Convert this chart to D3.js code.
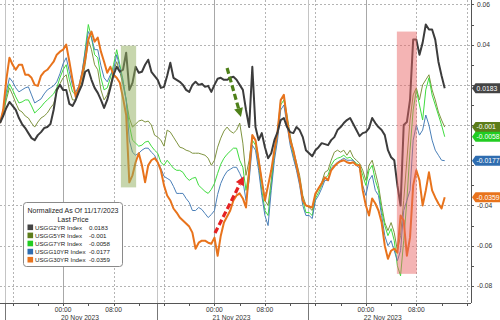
<!DOCTYPE html>
<html>
<head>
<meta charset="utf-8">
<script src="https://cdn.jsdelivr.net/npm/d3@7"></script>
<style>
  body { margin: 0; background: #fff; }
  svg { display: block; font-family: "Liberation Sans", Arial, sans-serif; }
</style>
</head>
<body>
<svg id="chart" width="500" height="320"></svg>
<script>
// half-hourly samples from Sun 19 Nov 2023 14:00, normalized to 17 Nov close
const start = new Date(2023, 10, 19, 14, 0);

const usgg2yr = [0.001,0.0045,0.0085,0.0115,0.0095,0.0075,0.0035,0.0005,-0.0015,-0.004,
  -0.0065,-0.0075,-0.005,-0.0035,-0.0015,-0.001,0.0005,0.0075,0.0175,0.02,
  0.0175,0.0175,0.0105,0.0095,0.0125,0.0165,0.02,0.0265,0.0275,0.0225,
  0.0185,0.016,0.0125,0.0085,0.0125,0.0185,0.025,0.029,0.0265,0.0275,
  0.036,0.0175,0.021,0.029,0.026,0.0265,0.03,0.0325,0.0265,0.0245,
  0.0225,0.0185,0.019,0.0245,0.031,0.0235,0.0225,0.0215,0.02,0.0175,
  0.0165,0.02,0.0215,0.02,0.0205,0.019,0.0195,0.0165,0.02,0.023,
  0.0235,0.0225,0.0225,0.0235,0.024,0.0225,0.02,0.0175,0.0075,-0.001,
  0.029,-0.001,-0.0075,-0.004,-0.011,-0.0165,-0.014,-0.0075,-0.0035,0.0025,
  0.0035,-0.001,-0.0035,-0.004,-0.001,-0.0025,-0.006,-0.0125,-0.014,-0.0155,
  -0.0125,-0.011,-0.009,-0.0095,-0.01,-0.0075,-0.006,-0.0025,-0.001,0.001,
  0.0025,0.0035,0.0005,-0.0025,-0.0055,-0.004,-0.0035,-0.0015,0.0035,0.001,
  -0.001,-0.0025,-0.005,-0.0125,-0.016,-0.0175,-0.03,-0.04,0,0.0015,
  0.0125,0.0425,0.0425,0.035,0.041,0.05,0.0475,0.0475,0.0425,0.0315,
  0.0245,0.0183];

const usgg5yr = [0.001,0.0055,0.0125,0.0185,0.015,0.011,0.0075,0.0065,0.0045,0.0035,
  0.001,-0.001,0.0015,0.0035,0.0045,0.006,0.0085,0.0105,0.0165,0.0205,
  0.0235,0.025,0.0175,0.0125,0.0125,0.0165,0.0215,0.03,0.0425,0.0375,
  0.03,0.0275,0.0175,0.0125,0.015,0.02,0.0265,0.0315,0.0265,0.02,
  0.0125,0.0035,-0.001,0.0005,0.002,0.0025,0.0015,0.002,0,-0.005,
  -0.006,-0.0075,-0.0105,-0.0025,-0.0035,-0.006,-0.0085,-0.011,-0.0115,-0.0125,
  -0.013,-0.014,-0.014,-0.014,-0.0145,-0.015,-0.0165,-0.02,-0.0175,-0.011,
  -0.0065,-0.003,-0.001,-0.003,-0.004,-0.0025,0.001,-0.009,-0.025,-0.0175,
  -0.005,-0.0075,-0.0165,-0.0275,-0.0375,-0.04,-0.0275,-0.0125,-0.0025,0.0125,
  0.014,0.005,-0.005,-0.0125,-0.0185,-0.025,-0.035,-0.04,-0.041,-0.0425,
  -0.035,-0.0315,-0.0285,-0.0235,-0.0225,-0.0175,-0.0135,-0.0125,-0.0135,-0.0125,
  -0.015,-0.0125,-0.016,-0.0175,-0.019,-0.0225,-0.0275,-0.02,-0.0175,-0.0235,
  -0.03,-0.04,-0.0485,-0.0525,-0.0485,-0.0535,-0.0625,-0.055,-0.0375,-0.0175,
  0.0025,0.015,0.0185,0.0125,0.02,0.0225,0.025,0.0175,0.0125,0.0065,
  0.0025,-0.001];

const usgg7yr = [0.001,0.0065,0.0145,0.0205,0.0175,0.014,0.011,0.0115,0.0125,0.0125,
  0.0095,0.006,0.0075,0.009,0.011,0.0125,0.014,0.0155,0.0185,0.0235,
  0.0275,0.03,0.0225,0.0165,0.015,0.0185,0.025,0.0375,0.05,0.0435,
  0.035,0.0335,0.0235,0.0175,0.0185,0.0235,0.03,0.0375,0.03,0.0225,
  0.0125,0,-0.0075,-0.009,-0.0105,-0.01,-0.0085,-0.008,-0.0105,-0.0125,
  -0.014,-0.0185,-0.02,-0.0175,-0.0195,-0.0215,-0.0225,-0.0225,-0.0235,-0.026,
  -0.0275,-0.0265,-0.026,-0.03,-0.0315,-0.033,-0.034,-0.032,-0.029,-0.024,
  -0.0195,-0.0165,-0.0145,-0.013,-0.0115,-0.0115,-0.0175,-0.021,-0.0325,-0.0225,
  -0.0075,-0.01,-0.02,-0.0325,-0.0425,-0.045,-0.03,-0.015,-0.005,0.01,
  0.0125,0.0035,-0.0075,-0.015,-0.0215,-0.0275,-0.0375,-0.0435,-0.0435,-0.045,
  -0.0365,-0.0335,-0.03,-0.0265,-0.025,-0.02,-0.0175,-0.0165,-0.016,-0.015,
  -0.0165,-0.016,-0.0175,-0.019,-0.02,-0.025,-0.03,-0.0225,-0.02,-0.0275,
  -0.0325,-0.0425,-0.05,-0.055,-0.0515,-0.0575,-0.07,-0.075,-0.0575,-0.0375,
  -0.0125,0.0075,0.0175,0.01,0.0025,0.0175,0.0235,0.015,0.01,0.005,
  0,-0.0058];

const usgg10yr = [0.001,0.0075,0.0165,0.0235,0.0215,0.0185,0.0165,0.0175,0.0185,0.019,
  0.015,0.011,0.012,0.013,0.0155,0.0175,0.0185,0.0195,0.0215,0.0255,
  0.0305,0.0335,0.0265,0.0195,0.0165,0.0195,0.0265,0.0365,0.0465,0.0435,
  0.0375,0.0375,0.0295,0.0235,0.0215,0.025,0.0275,0.035,0.0285,0.0215,
  0.0125,-0.0075,-0.0135,-0.015,-0.014,-0.0125,-0.0115,-0.0115,-0.0135,-0.015,
  -0.0185,-0.0215,-0.0255,-0.0265,-0.0275,-0.0305,-0.034,-0.034,-0.034,-0.0365,
  -0.0385,-0.0425,-0.0425,-0.041,-0.042,-0.044,-0.046,-0.0445,-0.0425,-0.0345,
  -0.029,-0.0255,-0.023,-0.022,-0.021,-0.021,-0.024,-0.0275,-0.0375,-0.0275,
  -0.01,-0.0125,-0.0225,-0.035,-0.045,-0.05,-0.0325,-0.0175,-0.0075,0.0075,
  0.01,0,-0.01,-0.0165,-0.0225,-0.03,-0.04,-0.045,-0.045,-0.0465,
  -0.0375,-0.035,-0.0315,-0.0275,-0.0275,-0.0215,-0.02,-0.0185,-0.0175,-0.0165,
  -0.0175,-0.0175,-0.0175,-0.02,-0.0215,-0.03,-0.035,-0.0275,-0.025,-0.0325,
  -0.035,-0.045,-0.055,-0.06,-0.0575,-0.0625,-0.0675,-0.0625,-0.0425,-0.0375,
  -0.0325,-0.0075,0,-0.005,-0.0025,0.005,0,-0.0075,-0.0125,-0.015,
  -0.0175,-0.0177];

const usgg30yr = [0.001,0.0075,0.0225,0.0335,0.03,0.0275,0.03,0.03,0.025,0.025,
  0.0235,0.02,0.0195,0.0245,0.0265,0.0275,0.0295,0.0315,0.035,0.0365,
  0.0375,0.04,0.0315,0.0225,0.014,0.0185,0.025,0.0325,0.0425,0.0465,
  0.0415,0.0435,0.0365,0.0315,0.026,0.029,0.025,0.0235,0.021,0.0135,
  0.005,-0.0285,-0.025,-0.0185,-0.014,-0.02,-0.0285,-0.02,-0.0175,-0.0165,
  -0.0185,-0.0225,-0.03,-0.035,-0.0375,-0.0415,-0.0435,-0.046,-0.0475,-0.049,
  -0.0505,-0.0535,-0.0615,-0.0585,-0.0575,-0.0575,-0.0585,-0.059,-0.056,-0.065,
  -0.055,-0.0485,-0.0455,-0.0425,-0.0375,-0.035,-0.034,-0.0365,-0.041,-0.0225,
  -0.005,-0.0075,-0.0175,-0.0275,-0.0375,-0.03,-0.0225,-0.0125,-0.0035,0.0125,
  0.015,0.0025,-0.0075,-0.0125,-0.02,-0.0275,-0.0375,-0.04,-0.0405,-0.041,
  -0.034,-0.0315,-0.029,-0.026,-0.0275,-0.0225,-0.0205,-0.019,-0.018,-0.0175,
  -0.0185,-0.019,-0.0185,-0.02,-0.02,-0.0325,-0.04,-0.045,-0.0365,-0.039,
  -0.0425,-0.0485,-0.06,-0.0665,-0.0625,-0.0615,-0.0635,-0.045,-0.0475,-0.065,
  -0.056,-0.03,-0.0225,-0.0275,-0.04,-0.0325,-0.0235,-0.0325,-0.036,-0.039,
  -0.0415,-0.0359];

const seriesNames = ["USGG2YR Index", "USGG5YR Index", "USGG7YR Index", "USGG10YR Index", "USGG30YR Index"];
const seriesValues = [usgg2yr, usgg5yr, usgg7yr, usgg10yr, usgg30yr];
const lineColors = ["#3c3c3c", "#7f9440", "#3fdc3f", "#4a7fb8", "#e8731c"];
const tagColors = ["#444444", "#5d7d1a", "#22cc22", "#2f6db0", "#e8731c"];
const lineWidths = [2, 1, 1, 1, 2];
const yTicks = [-0.08, -0.06, -0.04, -0.02, 0, 0.02, 0.04, 0.06];

// annotation boxes and arrows (time, value)
const greenBox = { t0: new Date(2023, 10, 20, 9, 10), t1: new Date(2023, 10, 20, 11, 35), v0: 0.0395, v1: -0.031 };
const pinkBox = { t0: new Date(2023, 10, 22, 4, 55), t1: new Date(2023, 10, 22, 8, 5), v0: 0.0465, v1: -0.074 };
const greenArrow = { t0: new Date(2023, 10, 21, 2, 0), v0: 0.0284, t1: new Date(2023, 10, 21, 4, 12), v1: 0.004 };
const redArrow = { t0: new Date(2023, 10, 21, 0, 5), v0: -0.0537, t1: new Date(2023, 10, 21, 4, 40), v1: -0.0254 };

const W = 471, H = 303;
const times = usgg2yr.map((d, i) => d3.timeMinute.offset(start, 30 * i));

const x = d3.scaleTime()
  .domain([new Date(2023, 10, 19, 14, 0), new Date(2023, 10, 22, 16, 40)])
  .range([0, W]);
const y = d3.scaleLinear().domain([-0.0885, 0.0622]).range([H, 0]);

const svg = d3.select("#chart");

svg.append("defs").append("clipPath").attr("id", "plot")
  .append("rect").attr("width", W).attr("height", H);

// horizontal grid
svg.append("g").selectAll("line").data(yTicks).enter().append("line")
  .attr("x1", 0).attr("x2", W)
  .attr("y1", d => Math.round(y(d)) + 0.5).attr("y2", d => Math.round(y(d)) + 0.5)
  .attr("stroke", "#b4b4b4").attr("stroke-dasharray", "2,2");

// vertical grid: midnight solid, 08:00 / 16:00 dotted
const grid8 = d3.timeHour.every(8).range(x.domain()[0], x.domain()[1]);
svg.append("g").selectAll("line").data(grid8).enter().append("line")
  .attr("x1", d => Math.round(x(d)) + 0.5).attr("x2", d => Math.round(x(d)) + 0.5)
  .attr("y1", 0).attr("y2", H)
  .attr("stroke", d => d.getHours() === 0 ? "#a8a8a8" : "#b4b4b4")
  .attr("stroke-dasharray", d => d.getHours() === 0 ? null : "2,2");

// session separators
const separators = [new Date(2023, 10, 19, 14, 50), new Date(2023, 10, 20, 14, 50), new Date(2023, 10, 21, 14, 50)];
svg.append("g").selectAll("line").data(separators).enter().append("line")
  .attr("x1", d => Math.round(x(d)) + 0.5).attr("x2", d => Math.round(x(d)) + 0.5)
  .attr("y1", 0).attr("y2", 320)
  .attr("stroke", "#c4c4c4");
svg.append("g").selectAll("line").data(separators).enter().append("line")
  .attr("x1", d => Math.round(x(d)) + 0.5).attr("x2", d => Math.round(x(d)) + 0.5)
  .attr("y1", H).attr("y2", 320)
  .attr("stroke", "#777");

// lines
const line = d3.line().x((d, i) => x(times[i])).y(d => y(d));
const order = [1, 2, 3, 4, 0];
svg.append("g").attr("clip-path", "url(#plot)")
  .selectAll("path").data(order).enter().append("path")
  .attr("fill", "none")
  .attr("stroke", k => lineColors[k])
  .attr("stroke-width", k => lineWidths[k])
  .attr("stroke-linejoin", "round")
  .attr("d", k => line(seriesValues[k]));

// shaded boxes on top of the lines
svg.append("rect")
  .attr("x", x(greenBox.t0)).attr("width", x(greenBox.t1) - x(greenBox.t0))
  .attr("y", y(greenBox.v0)).attr("height", y(greenBox.v1) - y(greenBox.v0))
  .attr("fill", "#8fae5c").attr("opacity", 0.5);
svg.append("rect")
  .attr("x", x(pinkBox.t0)).attr("width", x(pinkBox.t1) - x(pinkBox.t0))
  .attr("y", y(pinkBox.v0)).attr("height", y(pinkBox.v1) - y(pinkBox.v0))
  .attr("fill", "#e86262").attr("opacity", 0.48);

// dashed arrows
function arrow(a, color) {
  const x0 = x(a.t0), y0 = y(a.v0), x1 = x(a.t1), y1 = y(a.v1);
  const ang = Math.atan2(y1 - y0, x1 - x0);
  const head = 9, half = 4.5;
  const bx = x1 - head * Math.cos(ang), by = y1 - head * Math.sin(ang);
  svg.append("line")
    .attr("x1", x0).attr("y1", y0).attr("x2", bx).attr("y2", by)
    .attr("stroke", color).attr("stroke-width", 3.2).attr("stroke-dasharray", "6,3");
  const px = -Math.sin(ang) * half, py = Math.cos(ang) * half;
  svg.append("polygon")
    .attr("points", [[x1, y1], [bx + px, by + py], [bx - px, by - py]].map(p => p.join(",")).join(" "))
    .attr("fill", color);
}
arrow(greenArrow, "#4e8019");
arrow(redArrow, "#e52222");

// bottom axis
svg.append("line").attr("x1", 0).attr("x2", W).attr("y1", H + 0.5).attr("y2", H + 0.5).attr("stroke", "#555");
const ticks4 = d3.timeHour.every(4).range(x.domain()[0], x.domain()[1]);
svg.append("g").selectAll("line").data(ticks4).enter().append("line")
  .attr("x1", d => Math.round(x(d)) + 0.5).attr("x2", d => Math.round(x(d)) + 0.5)
  .attr("y1", H).attr("y2", H + 3).attr("stroke", "#555");
const labelTicks = ticks4.filter(d => d.getHours() === 0 || d.getHours() === 8);
svg.append("g").selectAll("text").data(labelTicks).enter().append("text")
  .attr("x", d => x(d)).attr("y", 312)
  .attr("text-anchor", "middle").attr("font-size", 6.7).attr("fill", "#333")
  .text(d3.timeFormat("%H:%M"));
svg.append("g").selectAll("text").data(ticks4.filter(d => d.getHours() === 0)).enter().append("text")
  .attr("x", d => x(d) - 2).attr("y", 320)
  .attr("font-size", 6.7).attr("fill", "#333")
  .text(d3.timeFormat("%-d %b %Y"));

// right axis
const lastVals = seriesValues.map(s => s[s.length - 1]);
svg.append("line").attr("x1", W + 0.5).attr("x2", W + 0.5).attr("y1", 0).attr("y2", H).attr("stroke", "#555");
const minor = d3.range(-8, 7).map(k => k / 100);
svg.append("g").selectAll("line").data(minor).enter().append("line")
  .attr("x1", W).attr("x2", W + 3)
  .attr("y1", d => Math.round(y(d)) + 0.5).attr("y2", d => Math.round(y(d)) + 0.5)
  .attr("stroke", "#555");
// labels hidden behind a last-value tag are left out
const shownTicks = yTicks.filter(t => lastVals.every(v => Math.abs(y(v) - y(t)) > 6));
svg.append("g").selectAll("text").data(shownTicks).enter().append("text")
  .attr("x", W + 6).attr("y", d => y(d) + 2.4)
  .attr("font-size", 6.7).attr("fill", "#333")
  .text(d => d === 0 ? "0" : d.toFixed(2));

// last value tags
const tags = svg.append("g").selectAll("g").data(lastVals).enter().append("g")
  .attr("transform", d => "translate(0," + y(d) + ")");
tags.append("path")
  .attr("d", "M472,0 L475.5,-5 L500,-5 L500,5 L475.5,5 Z")
  .attr("fill", (d, i) => tagColors[i]);
tags.append("text")
  .attr("x", 476.5).attr("y", 2.4)
  .attr("font-size", 6.8).attr("fill", "#fff")
  .text(d => String(d));

// legend
const lg = svg.append("g").attr("transform", "translate(23,202)");
lg.append("rect").attr("x", 0.5).attr("y", 0.5).attr("width", 99).attr("height", 64)
  .attr("rx", 3).attr("fill", "#fff").attr("stroke", "#8a8a8a");
lg.append("text").attr("x", 50).attr("y", 10.5).attr("text-anchor", "middle")
  .attr("font-size", 7).attr("fill", "#222").text("Normalized As Of 11/17/2023");
lg.append("text").attr("x", 50).attr("y", 19.5).attr("text-anchor", "middle")
  .attr("font-size", 7).attr("fill", "#222").text("Last Price");
const rows = lg.selectAll(".row").data(seriesNames).enter().append("g")
  .attr("transform", (d, i) => "translate(0," + (25.3 + i * 8.1) + ")");
rows.append("rect").attr("x", 4.5).attr("y", -2.8).attr("width", 5.6).attr("height", 5.6)
  .attr("fill", (d, i) => tagColors[i]);
rows.append("text").attr("x", 12).attr("y", 2.3).attr("font-size", 6.2).attr("fill", "#222").text(d => d);
rows.append("text").attr("x", 66).attr("y", 2.3).attr("font-size", 6.2).attr("fill", "#222")
  .text((d, i) => String(lastVals[i]));
</script>
</body>
</html>
